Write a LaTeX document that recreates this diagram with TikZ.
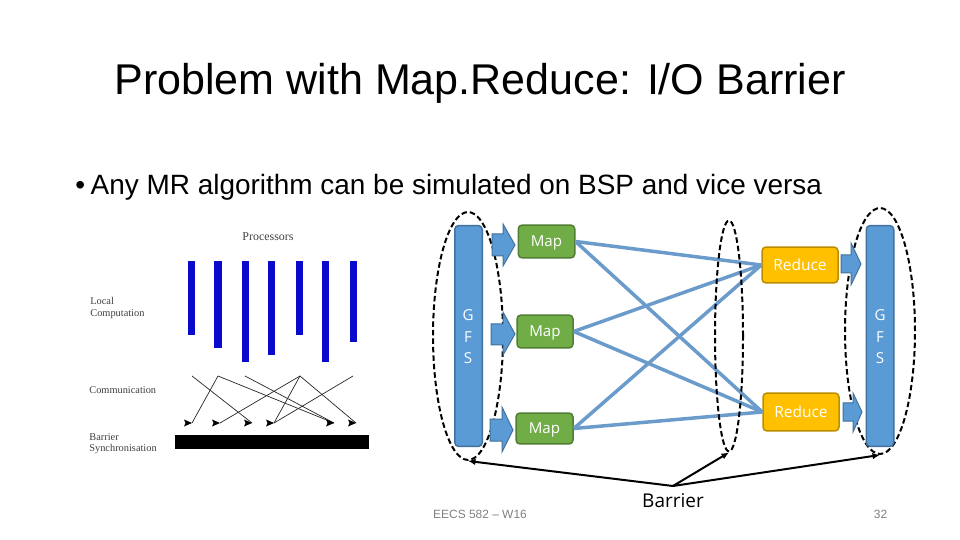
\documentclass[tikz,border=0pt]{standalone}
\usepackage{fontspec}
\setmainfont{Liberation Sans}
\newfontfamily\boxfont{Open Sans}
\newfontfamily\scanfont{Liberation Serif}
\usetikzlibrary{arrows.meta,shapes.geometric}
\definecolor{gfsblue}{HTML}{5B9BD5}
\definecolor{gfsedge}{HTML}{41719C}
\definecolor{mapgreen}{HTML}{70AD47}
\definecolor{mapedge}{HTML}{507E32}
\definecolor{redgold}{HTML}{FFC000}
\definecolor{rededge}{HTML}{BC8C00}
\definecolor{linkblue}{HTML}{6A9BCB}
\definecolor{procblue}{HTML}{0A0ACC}
\tikzset{
    gfsbar/.style={draw=gfsedge, line width=0.03cm, fill=gfsblue, rounded corners=0.08cm, minimum width=0.55cm, minimum height=4.42cm, inner sep=0pt},
    gfsletter/.style={text=white, font=\boxfont\fontsize{8.6}{10}\selectfont, inner sep=0pt},
    mapbox/.style={draw=mapedge, line width=0.03cm, fill=mapgreen, rounded corners=0.08cm, text=white, font=\boxfont\fontsize{8.6}{10}\selectfont, inner sep=0pt, text height=0.2cm, text depth=0cm},
    reducebox/.style={draw=rededge, line width=0.03cm, fill=redgold, rounded corners=0.08cm, text=white, font=\boxfont\fontsize{8.8}{10}\selectfont, inner sep=0pt, text height=0.22cm, text depth=0cm},
    blockarrow/.style={draw=gfsedge, line width=0.02cm, fill=gfsblue},
    link/.style={draw=linkblue, line width=0.07cm},
    ring/.style={draw=black, ellipse, line width=0.04cm, dash pattern=on 0.11cm off 0.06cm, inner sep=0pt},
    barrierarrow/.style={-{Latex[length=0.15cm,width=0.13cm]}, line width=0.04cm},
    comm/.style={line width=0.014cm, black!85},
    scanlabel/.style={font=\scanfont\fontsize{5.9}{7}\selectfont, text=black!75, inner sep=0pt},
    footer/.style={font=\fontsize{6.8}{8}\selectfont, text=black!50, inner sep=0pt}
}
\begin{document}
\begin{tikzpicture}[x=0.02cm, y=-0.02cm]
    \useasboundingbox (0,0) rectangle (960,540);
    \node[inner sep=0pt, font=\fontsize{24.5}{30}\selectfont] (title) at (480,83) {Problem with Map.Reduce: I/O Barrier};
    \node[inner sep=0pt, font=\fontsize{15.9}{18}\selectfont, anchor=west] (bullet) at (75,187) {•\hspace{0.2em}Any MR algorithm can be simulated on BSP and vice versa};

    % processors figure
    \node[scanlabel, font=\scanfont\fontsize{6.8}{8}\selectfont] (processors) at (268,237) {Processors};
    \node[scanlabel, anchor=west] (local) at (90,301) {Local};
    \node[scanlabel, anchor=west] (computation) at (90,314) {Computation};
    \node[scanlabel, anchor=west] (communication) at (89,390) {Communication};
    \node[scanlabel, anchor=west] (barrierword) at (89,437) {Barrier};
    \node[scanlabel, anchor=west] (synchronisation) at (89,449) {Synchronisation};
    \foreach \l/\r/\b in {188/195/335, 214/222/348, 242/249/362, 268/275/355, 296/303/335, 322/329/362, 350/357/342}
        \fill[procblue] (\l,261) rectangle (\r,\b);
    \fill[black] (175,435) rectangle (369,449);
    \foreach \n/\x in {1/192, 2/218, 3/245, 4/300, 5/353}
        \coordinate (src\n) at (\x,376);
    \foreach \n/\x in {1/192, 2/220, 3/252, 4/274, 5/334, 6/356}
        \coordinate (dst\n) at (\x,423);
    \draw[comm] (src1) -- (dst3);
    \draw[comm] (src2) -- (dst1);
    \draw[comm] (src2) -- (dst5);
    \draw[comm] (src3) -- (dst5);
    \draw[comm] (src4) -- (dst2);
    \draw[comm] (src4) -- (dst4);
    \draw[comm] (src4) -- (dst6);
    \draw[comm] (src5) -- (dst4);
    % the heads all point right
    \foreach \n in {1,...,6}
        \fill[black] (dst\n) -- ++(-8,-3.5) -- ++(1.5,3.5) -- ++(-1.5,3.5) -- cycle;

    % dashed barriers
    \node[ring, minimum width=1.4cm, minimum height=4.96cm] (ringleft) at (468,336) {};
    \node[ring, minimum width=1.4cm, minimum height=4.92cm] (ringright) at (880,331) {};

    % gfs bars
    \node[gfsbar] (gfsleft) at (468.5,336) {};
    \node[gfsbar] (gfsright) at (880,336) {};
    \foreach \n/\x in {left/468, right/880} {
        \node[gfsletter] (g\n) at (\x,315) {G};
        \node[gfsletter] (f\n) at (\x,337) {F};
        \node[gfsletter] (s\n) at (\x,358) {S};
    }

    % map and reduce boxes
    \node[mapbox, minimum width=1.13cm, minimum height=0.66cm] (map1) at (546.5,241.5) {Map};
    \node[mapbox, minimum width=1.12cm, minimum height=0.66cm] (map2) at (545,331.5) {Map};
    \node[mapbox, minimum width=1.14cm, minimum height=0.62cm] (map3) at (544.5,428.5) {Map};
    \node[reducebox, minimum width=1.52cm, minimum height=0.72cm] (reduce1) at (800,265) {Reduce};
    \node[reducebox, minimum width=1.52cm, minimum height=0.76cm] (reduce2) at (801,412) {Reduce};

    \foreach \m/\r in {1/1, 1/2, 2/1, 2/2, 3/1, 3/2}
        \draw[link] (map\m.east) -- (reduce\r.west);
    \node[ring, minimum width=0.56cm, minimum height=4.62cm] (ringmid) at (729,336) {};

    % block arrows: tail, head base, tip, shaft top/bottom, head top/bottom
    \foreach \t/\b/\e/\y/\st/\sb/\ht/\hb in {492/503/515/245/234/256/224/266, 491/503/515/334/324/345/312/355, 490/502/513/430/419/441/407/452, 841/851/861/264/255/273/243/285, 843/853/862/412/403/421/393/432}
        \draw[blockarrow] (\t,\st) -- (\b,\st) -- (\b,\ht) -- (\e,\y) -- (\b,\hb) -- (\b,\sb) -- (\t,\sb) -- cycle;

    \node[inner sep=0pt, font=\boxfont\fontsize{10.8}{13}\selectfont] (barrier) at (673,501) {Barrier};
    \coordinate (fork) at (673,486);
    \draw[barrierarrow] (fork) -- (ringleft.south);
    \draw[barrierarrow] (fork) -- (ringmid.south);
    \draw[barrierarrow] (fork) -- (ringright.south);

    \node[footer] (course) at (480,514) {EECS 582 – W16};
    \node[footer] (pagenum) at (880.5,514) {32};
\end{tikzpicture}
\end{document}
